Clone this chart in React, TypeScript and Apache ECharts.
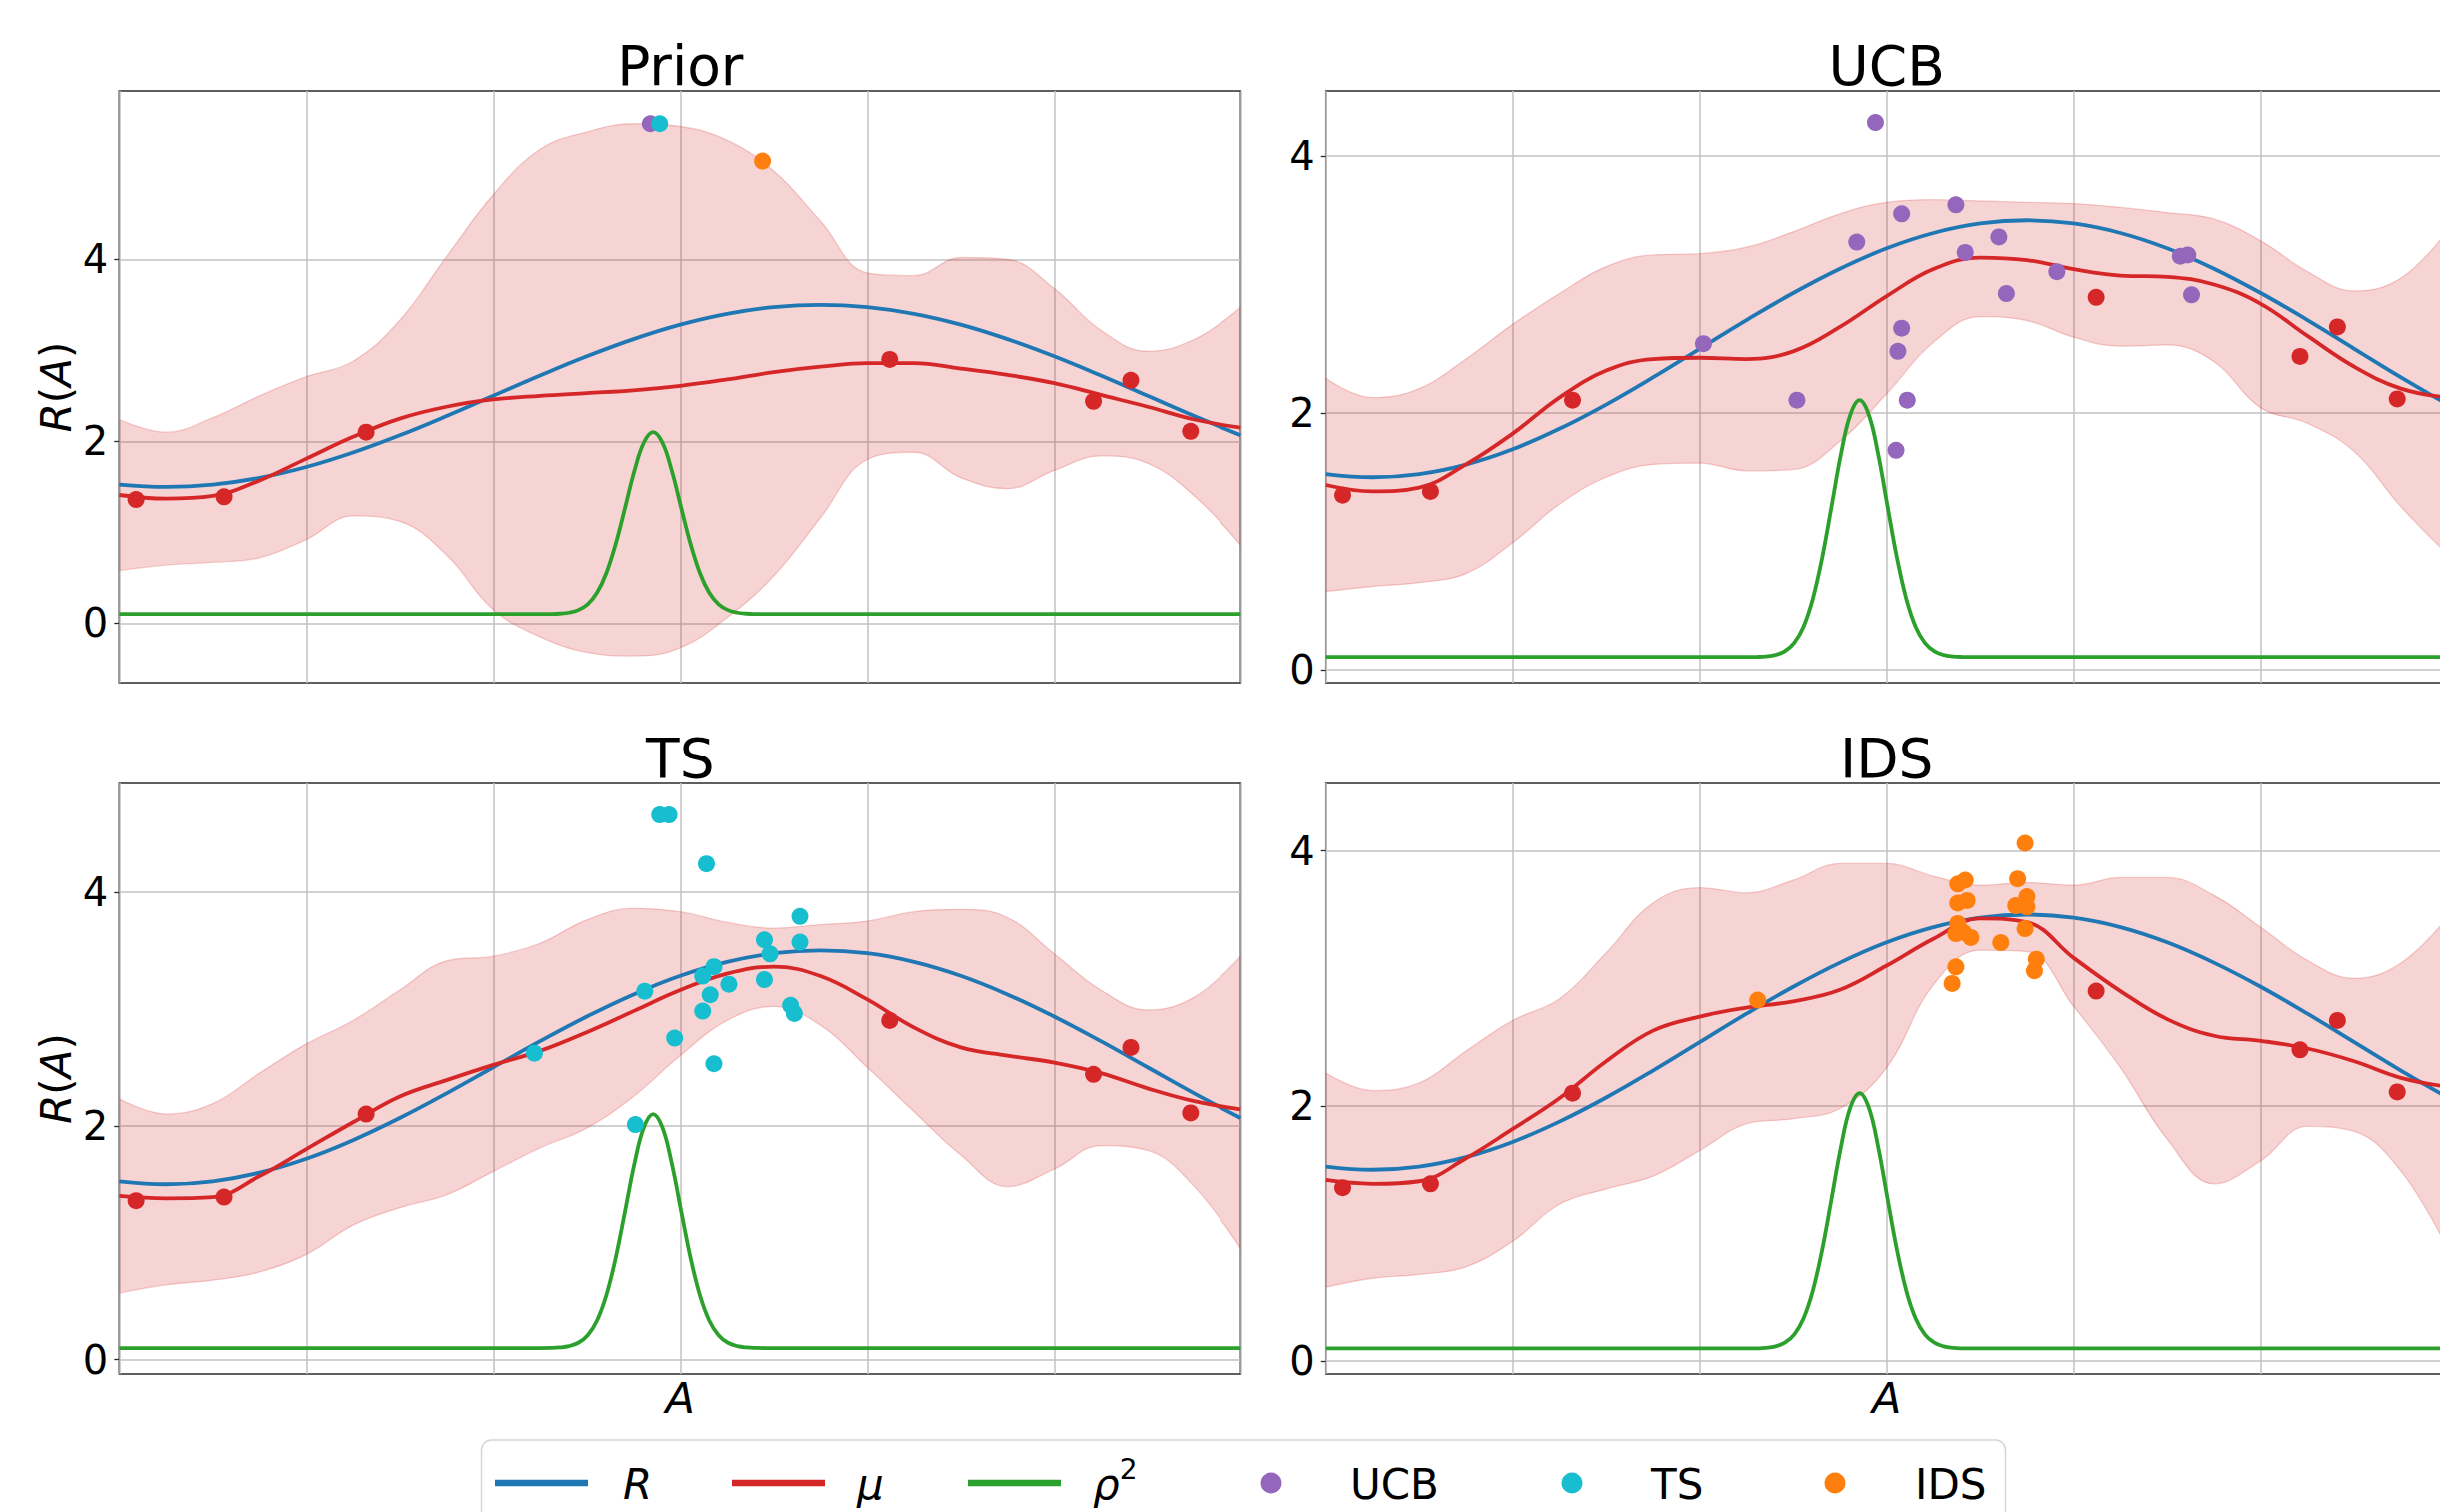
import React, { useEffect, useRef } from "react";
import * as echarts from "echarts";

// ---------- data ----------
const xs = [0, 0.25, 0.5, 0.75, 1, 1.25, 1.5, 1.75, 2, 2.25, 2.5, 2.75, 3, 3.25, 3.5, 3.75, 4, 4.25, 4.5, 4.75, 5, 5.25, 5.5, 5.75, 6];

// true reward R (blue), same in every panel
const rTrue = [1.525, 1.5, 1.525, 1.599, 1.718, 1.877, 2.066, 2.277, 2.5, 2.723, 2.934, 3.123, 3.282, 3.401, 3.475, 3.5, 3.475, 3.401, 3.282, 3.123, 2.934, 2.723, 2.5, 2.277, 2.066];

// rho^2 (green), same in every panel
const greenX = [0, 2.205, 2.255, 2.305, 2.355, 2.405, 2.455, 2.505, 2.555, 2.605, 2.655, 2.705, 2.755, 2.805, 2.855, 2.905, 2.955, 3.005, 3.055, 3.105, 3.155, 3.205, 3.255, 3.305, 3.355, 3.405, 3.455, 3.505, 6];
const greenY = [0.1, 0.1, 0.1, 0.101, 0.105, 0.116, 0.145, 0.209, 0.335, 0.553, 0.873, 1.271, 1.676, 1.984, 2.1, 1.984, 1.676, 1.271, 0.873, 0.553, 0.335, 0.209, 0.145, 0.116, 0.105, 0.101, 0.1, 0.1, 0.1];

// observations (red dots), same in every panel
const obsX = [0.09, 0.56, 1.32, 4.12, 5.21, 5.41, 5.73];
const obsY = [1.36, 1.39, 2.1, 2.9, 2.44, 2.67, 2.11];

// posterior mean and band per panel
const priorMu = [1.41, 1.37, 1.4, 1.57, 1.81, 2.05, 2.25, 2.38, 2.46, 2.5, 2.53, 2.56, 2.61, 2.68, 2.76, 2.82, 2.86, 2.86, 2.8, 2.73, 2.64, 2.51, 2.38, 2.24, 2.15];
const priorUpper = [2.24, 2.1, 2.26, 2.5, 2.71, 2.88, 3.33, 4.03, 4.71, 5.21, 5.4, 5.49, 5.46, 5.31, 4.97, 4.42, 3.85, 3.82, 4.02, 4.0, 3.68, 3.22, 2.99, 3.12, 3.47];
const priorLower = [0.58, 0.64, 0.67, 0.72, 0.92, 1.18, 1.12, 0.75, 0.15, -0.15, -0.32, -0.36, -0.27, 0.06, 0.52, 1.16, 1.8, 1.88, 1.6, 1.48, 1.68, 1.84, 1.76, 1.4, 0.86];

const ucbMu = [1.44, 1.39, 1.42, 1.6, 1.84, 2.12, 2.33, 2.42, 2.43, 2.42, 2.48, 2.67, 2.91, 3.12, 3.21, 3.19, 3.12, 3.07, 3.06, 3.0, 2.85, 2.6, 2.36, 2.19, 2.12];
const ucbUpper = [2.27, 2.12, 2.19, 2.42, 2.69, 2.93, 3.14, 3.23, 3.24, 3.29, 3.41, 3.55, 3.64, 3.66, 3.65, 3.64, 3.63, 3.6, 3.56, 3.51, 3.34, 3.1, 2.95, 3.05, 3.42];
const ucbLower = [0.61, 0.65, 0.68, 0.75, 0.99, 1.29, 1.5, 1.6, 1.61, 1.55, 1.56, 1.78, 2.15, 2.55, 2.75, 2.72, 2.59, 2.52, 2.53, 2.4, 2.04, 1.92, 1.7, 1.27, 0.9];

const tsMu = [1.4, 1.38, 1.39, 1.57, 1.8, 2.03, 2.25, 2.39, 2.52, 2.64, 2.8, 2.98, 3.16, 3.3, 3.36, 3.28, 3.08, 2.84, 2.67, 2.6, 2.54, 2.45, 2.32, 2.21, 2.14];
const tsUpper = [2.23, 2.1, 2.19, 2.45, 2.7, 2.9, 3.16, 3.41, 3.45, 3.56, 3.76, 3.86, 3.83, 3.74, 3.69, 3.72, 3.75, 3.83, 3.85, 3.78, 3.47, 3.16, 2.99, 3.1, 3.45];
const tsLower = [0.57, 0.64, 0.68, 0.75, 0.9, 1.15, 1.3, 1.41, 1.61, 1.81, 1.98, 2.25, 2.6, 2.9, 3.02, 2.86, 2.5, 2.12, 1.75, 1.48, 1.63, 1.83, 1.79, 1.48, 0.95];

const idsMu = [1.42, 1.39, 1.41, 1.59, 1.82, 2.06, 2.35, 2.59, 2.7, 2.77, 2.82, 2.91, 3.1, 3.31, 3.47, 3.44, 3.16, 2.9, 2.68, 2.55, 2.51, 2.45, 2.35, 2.22, 2.15];
const idsUpper = [2.26, 2.12, 2.18, 2.43, 2.67, 2.84, 3.2, 3.59, 3.71, 3.67, 3.77, 3.9, 3.9, 3.8, 3.73, 3.75, 3.73, 3.79, 3.79, 3.65, 3.4, 3.14, 3.0, 3.12, 3.48];
const idsLower = [0.58, 0.65, 0.68, 0.74, 0.94, 1.23, 1.35, 1.45, 1.65, 1.86, 1.9, 1.98, 2.3, 2.95, 3.22, 3.21, 2.78, 2.3, 1.74, 1.39, 1.57, 1.84, 1.8, 1.49, 0.88];

// sampled actions
const priorUcbX = [2.84];
const priorUcbY = [5.49];
const priorTsX = [2.89];
const priorTsY = [5.49];
const priorIdsX = [3.44];
const priorIdsY = [5.08];

const ucbX = [2.94, 3.08, 3.37, 2.84, 3.6, 3.42, 3.91, 3.64, 3.08, 3.06, 2.52, 3.11, 3.05, 2.02, 4.57, 4.61, 4.63];
const ucbY = [4.26, 3.55, 3.62, 3.33, 3.37, 3.25, 3.1, 2.93, 2.66, 2.48, 2.1, 2.1, 1.71, 2.54, 3.22, 3.23, 2.92];

const tsX = [2.89, 2.94, 3.14, 3.64, 3.45, 3.64, 3.48, 3.18, 3.12, 3.26, 3.45, 3.16, 2.81, 3.12, 3.59, 3.61, 2.97, 3.18, 2.76, 2.22];
const tsY = [4.66, 4.66, 4.24, 3.79, 3.59, 3.57, 3.47, 3.36, 3.28, 3.21, 3.25, 3.12, 3.15, 2.98, 3.03, 2.96, 2.75, 2.53, 2.01, 2.62];

const idsX = [3.74, 3.42, 3.38, 3.7, 3.43, 3.38, 3.75, 3.69, 3.75, 3.38, 3.37, 3.41, 3.45, 3.61, 3.74, 3.8, 3.79, 3.37, 3.35, 2.31];
const idsY = [4.06, 3.77, 3.74, 3.78, 3.61, 3.59, 3.64, 3.57, 3.56, 3.43, 3.35, 3.36, 3.32, 3.28, 3.39, 3.15, 3.06, 3.09, 2.96, 2.83];

const panelTitles = ["Prior", "UCB", "TS", "IDS"];
const yMins = [-0.656, -0.101, -0.122, -0.1];
const yMaxs = [5.85, 4.506, 4.93, 4.53];
const yTickValues = [0, 2, 4];
const legendNames = ["R", "μ", "ρ2", "UCB", "TS", "IDS"];

// ---------- styling ----------
const FONT = "DejaVu Sans";
const BLUE = "#1f77b4";
const RED = "#d62728";
const GREEN = "#2ca02c";
const PURPLE = "#9467bd";
const CYAN = "#17becf";
const ORANGE = "#ff7f0e";
const BAND_FILL = "rgba(214,39,40,0.2)";
const BAND_EDGE = "rgba(214,39,40,0.22)";
const GRID_COLOR = "#c2c2c2";

const GRID_LEFT = [119.3, 1326.7, 119.3, 1326.7];
const GRID_TOP = [91, 91, 784, 784];
const GRID_W = 1122;
const GRID_H = [592, 592, 591, 591];

const zip = (a: number[], b: number[]) => a.map((v, i) => [v, b[i]]);

function buildOption() {
  const mus = [priorMu, ucbMu, tsMu, idsMu];
  const uppers = [priorUpper, ucbUpper, tsUpper, idsUpper];
  const lowers = [priorLower, ucbLower, tsLower, idsLower];
  const pointSets: { name: string; x: number[]; y: number[]; color: string }[][] = [
    [
      { name: "UCB", x: priorUcbX, y: priorUcbY, color: PURPLE },
      { name: "TS", x: priorTsX, y: priorTsY, color: CYAN },
      { name: "IDS", x: priorIdsX, y: priorIdsY, color: ORANGE },
    ],
    [{ name: "UCB", x: ucbX, y: ucbY, color: PURPLE }],
    [{ name: "TS", x: tsX, y: tsY, color: CYAN }],
    [{ name: "IDS", x: idsX, y: idsY, color: ORANGE }],
  ];

  const grid: any[] = [];
  const xAxis: any[] = [];
  const yAxis: any[] = [];
  const series: any[] = [];
  const graphic: any[] = [];

  for (let i = 0; i < 4; i++) {
    grid.push({
      left: GRID_LEFT[i],
      top: GRID_TOP[i],
      width: GRID_W,
      height: GRID_H[i],
      show: true,
      borderColor: "#2b2b2b",
      borderWidth: 1.5,
      backgroundColor: "transparent",
      containLabel: false,
      outerBoundsMode: "none",
    });
    xAxis.push({
      type: "value",
      gridIndex: i,
      min: 0,
      max: 6,
      interval: 1,
      axisLine: { show: false },
      axisTick: { show: false },
      axisLabel: { show: false },
      splitLine: { show: true, lineStyle: { color: GRID_COLOR, width: 1.5 } },
    });
    yAxis.push({
      type: "value",
      gridIndex: i,
      min: yMins[i],
      max: yMaxs[i],
      axisLine: { show: false },
      axisTick: { show: true, length: 5, customValues: yTickValues, lineStyle: { color: "#2b2b2b", width: 1.3 } },
      axisLabel: {
        show: true,
        customValues: yTickValues,
        fontSize: 40,
        fontFamily: FONT,
        color: "#000",
        margin: 11,
      },
      splitLine: { show: true, lineStyle: { color: GRID_COLOR, width: 1.5 } },
    });
  }
  // hidden category axes (one per grid) used only to stack the uncertainty bands
  for (let i = 0; i < 4; i++) {
    xAxis.push({
      type: "category",
      gridIndex: i,
      data: xs.map(String),
      boundaryGap: false,
      show: false,
      axisLine: { show: false },
      axisTick: { show: false },
      axisLabel: { show: false },
      splitLine: { show: false },
    });
  }

  for (let i = 0; i < 4; i++) {
    const lower = lowers[i];
    const upper = uppers[i];
    series.push({
      type: "line",
      name: "band-lower-" + i,
      xAxisIndex: 4 + i,
      yAxisIndex: i,
      data: lower,
      stack: "band" + i,
      stackStrategy: "all",
      smooth: 0.4,
      symbol: "none",
      silent: true,
      lineStyle: { color: BAND_EDGE, width: 1.3 },
      z: 1,
    });
    series.push({
      type: "line",
      name: "band-" + i,
      xAxisIndex: 4 + i,
      yAxisIndex: i,
      data: upper.map((u, k) => +(u - lower[k]).toFixed(3)),
      stack: "band" + i,
      stackStrategy: "all",
      smooth: 0.4,
      symbol: "none",
      silent: true,
      lineStyle: { color: BAND_EDGE, width: 1.3 },
      areaStyle: { color: BAND_FILL, opacity: 1 },
      z: 1,
    });
    series.push({
      type: "line",
      name: "R",
      xAxisIndex: i,
      yAxisIndex: i,
      data: zip(xs, rTrue),
      smooth: 0.4,
      symbol: "none",
      lineStyle: { color: BLUE, width: 3.8 },
      itemStyle: { color: BLUE },
      z: 3,
    });
    series.push({
      type: "line",
      name: "μ",
      xAxisIndex: i,
      yAxisIndex: i,
      data: zip(xs, mus[i]),
      smooth: 0.4,
      symbol: "none",
      lineStyle: { color: RED, width: 3.8 },
      itemStyle: { color: RED },
      z: 3,
    });
    series.push({
      type: "line",
      name: "ρ2",
      xAxisIndex: i,
      yAxisIndex: i,
      data: zip(greenX, greenY),
      smooth: 0.4,
      symbol: "none",
      lineStyle: { color: GREEN, width: 3.8 },
      itemStyle: { color: GREEN },
      z: 3,
    });
    series.push({
      type: "scatter",
      name: "observations",
      xAxisIndex: i,
      yAxisIndex: i,
      data: zip(obsX, obsY),
      symbol: "circle",
      symbolSize: 17,
      itemStyle: { color: RED, opacity: 1 },
      z: 5,
    });
    for (const ps of pointSets[i]) {
      series.push({
        type: "scatter",
        name: ps.name,
        xAxisIndex: i,
        yAxisIndex: i,
        data: zip(ps.x, ps.y),
        symbol: "circle",
        symbolSize: 17,
        itemStyle: { color: ps.color, opacity: 1 },
        z: 6,
      });
    }

    // panel title
    graphic.push({
      type: "text",
      x: GRID_LEFT[i] + GRID_W / 2,
      y: GRID_TOP[i] - 25,
      style: {
        text: panelTitles[i],
        fontSize: 55,
        fontFamily: FONT,
        fill: "#000",
        align: "center",
        verticalAlign: "middle",
      },
    });
  }

  // y-axis labels R(A) on the left panels
  for (const i of [0, 2]) {
    graphic.push({
      type: "text",
      x: 56,
      y: GRID_TOP[i] + GRID_H[i] / 2,
      rotation: Math.PI / 2,
      style: {
        text: "{i|R}{n|(}{i|A}{n|)}",
        fontSize: 42,
        fontFamily: FONT,
        fill: "#000",
        align: "center",
        verticalAlign: "middle",
        rich: {
          i: { fontSize: 42, fontFamily: FONT, fontStyle: "italic", fill: "#000", color: "#000" },
          n: { fontSize: 42, fontFamily: FONT, fill: "#000", color: "#000" },
        },
      },
    });
  }
  // x-axis labels A on the bottom panels
  for (const i of [2, 3]) {
    graphic.push({
      type: "text",
      x: GRID_LEFT[i] + GRID_W / 2,
      y: 1399,
      style: {
        text: "A",
        fontSize: 43,
        fontFamily: FONT,
        fontStyle: "italic",
        fill: "#000",
        align: "center",
        verticalAlign: "middle",
      },
    });
  }

  // legend
  const LY = 1484;
  graphic.push({
    type: "rect",
    z: 10,
    shape: { x: 481.5, y: 1441, width: 1525, height: 130, r: 10 },
    style: { fill: "rgba(255,255,255,0.8)", stroke: "#d6d6d6", lineWidth: 1.5 },
  });
  const lineItems = [
    { x: 495, color: BLUE, tx: 623 },
    { x: 732, color: RED, tx: 857 },
    { x: 968, color: GREEN, tx: 1093 },
  ];
  lineItems.forEach((it) => {
    graphic.push({
      type: "line",
      z: 11,
      shape: { x1: it.x, y1: LY, x2: it.x + 93, y2: LY },
      style: { stroke: it.color, lineWidth: 6.5 },
    });
  });
  const dotItems = [
    { cx: 1272, color: PURPLE, tx: 1351 },
    { cx: 1573, color: CYAN, tx: 1652 },
    { cx: 1836, color: ORANGE, tx: 1916 },
  ];
  dotItems.forEach((it) => {
    graphic.push({
      type: "circle",
      z: 11,
      shape: { cx: it.cx, cy: LY, r: 10.5 },
      style: { fill: it.color },
    });
  });
  const legendTextBase = { fontSize: 42, fontFamily: FONT, fill: "#000", align: "left", verticalAlign: "middle" };
  graphic.push({ type: "text", z: 11, x: lineItems[0].tx, y: LY + 1, style: { ...legendTextBase, text: legendNames[0], fontStyle: "italic" } });
  graphic.push({ type: "text", z: 11, x: lineItems[1].tx, y: LY + 1, style: { ...legendTextBase, text: legendNames[1], fontStyle: "italic" } });
  graphic.push({
    type: "text",
    z: 11,
    x: lineItems[2].tx,
    y: LY + 1,
    style: {
      ...legendTextBase,
      text: "{g|ρ}{s|2}",
      rich: {
        g: { fontSize: 42, fontFamily: FONT, fontStyle: "italic", lineHeight: 58, fill: "#000", color: "#000" },
        s: { fontSize: 28, fontFamily: FONT, lineHeight: 28, verticalAlign: "top", fill: "#000", color: "#000" },
      },
    },
  });
  graphic.push({ type: "text", z: 11, x: dotItems[0].tx, y: LY + 1, style: { ...legendTextBase, text: legendNames[3] } });
  graphic.push({ type: "text", z: 11, x: dotItems[1].tx, y: LY + 1, style: { ...legendTextBase, text: legendNames[4] } });
  graphic.push({ type: "text", z: 11, x: dotItems[2].tx, y: LY + 1, style: { ...legendTextBase, text: legendNames[5] } });

  return {
    animation: false,
    backgroundColor: "#ffffff",
    textStyle: { fontFamily: FONT },
    grid,
    xAxis,
    yAxis,
    series,
    graphic,
  };
}

export default function App() {
  const ref = useRef<HTMLDivElement>(null);
  useEffect(() => {
    if (!ref.current) return;
    const chart = echarts.init(ref.current, undefined, { renderer: "svg" });
    chart.setOption(buildOption() as any);
    return () => {
      chart.dispose();
    };
  }, []);
  return (
    <div
      style={{
        position: "fixed",
        left: 0,
        top: 0,
        width: 2441,
        height: 1513,
        overflow: "hidden",
        background: "#fff",
      }}
    >
      <div ref={ref} style={{ width: 2470, height: 1513 }} />
    </div>
  );
}
